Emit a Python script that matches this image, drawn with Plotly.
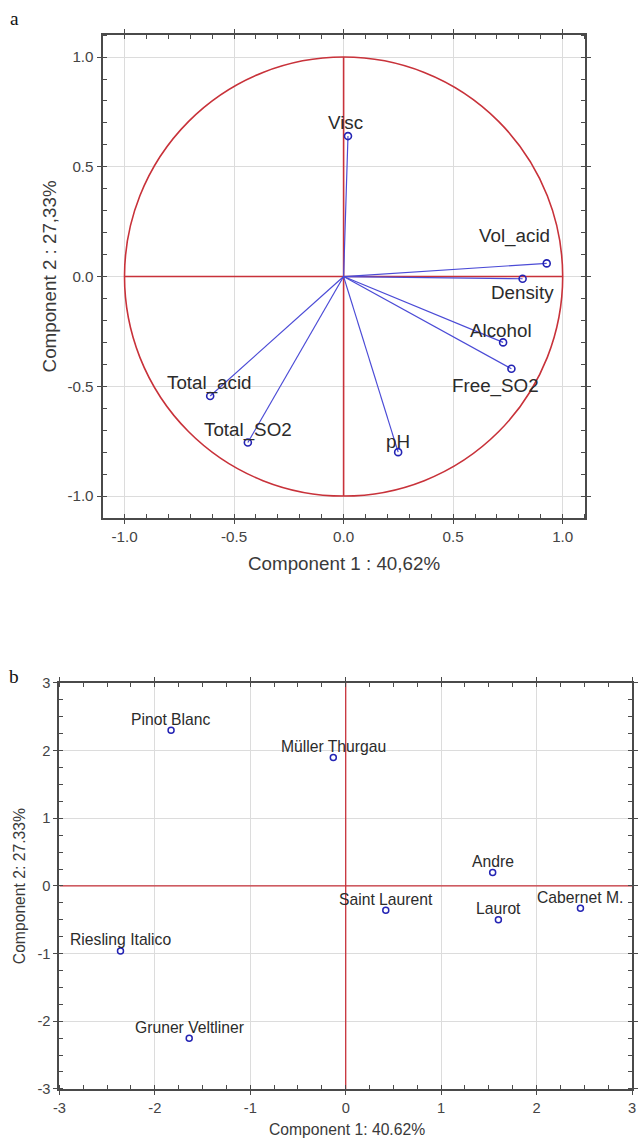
import plotly.graph_objects as go

# Panel a: variable loadings on the first two principal components
var_names = ["Visc", "Vol_acid", "Density", "Alcohol", "Free_SO2", "pH", "Total_acid", "Total_SO2"]
load_pc1 = [0.02, 0.927, 0.817, 0.728, 0.766, 0.249, -0.609, -0.437]
load_pc2 = [0.64, 0.06, -0.01, -0.30, -0.42, -0.80, -0.544, -0.756]

# Panel b: wine scores on the first two principal components
wine_names = ["Pinot Blanc", "Müller Thurgau", "Andre", "Saint Laurent", "Laurot",
              "Cabernet M.", "Riesling Italico", "Gruner Veltliner"]
score_pc1 = [-1.83, -0.13, 1.54, 0.42, 1.60, 2.46, -2.36, -1.64]
score_pc2 = [2.30, 1.90, 0.20, -0.36, -0.50, -0.33, -0.96, -2.25]

a_ticks = [-1.0, -0.5, 0.0, 0.5, 1.0]
a_ticktext = ["-1.0", "-0.5", "0.0", "0.5", "1.0"]
b_ticks = [-3, -2, -1, 0, 1, 2, 3]
b_ticktext = ["-3", "-2", "-1", "0", "1", "2", "3"]

# label offsets in screen pixels (dx, dy) relative to each loading point
a_label_shift = [(-2, 13), (-31, 27), (0, -14), (-2, 12), (-16, -17), (0, 11), (-1, 13), (0, 12)]

FONT = "Liberation Sans, Arial, sans-serif"
SERIF = "Liberation Serif, Times New Roman, serif"
RED = "#c8323a"
BLUE_LINE = "#4b4bd6"
BLUE_MARK = "#2424b4"
GRID = "#dcdcdc"
FRAME = "#4a4a4a"

# Layout positions are written in screen pixels of the final 638x1140 view.
# The page keeps its 8 px body margin and the 654x1156 page area is shown at
# 638x1140, so screen pixels are converted back to figure fractions here.
W, H = 638, 1140
BODY = 8
SX, SY = (W + 2 * BODY) / W, (H + 2 * BODY) / H


def px(x):
    return min(max((x * SX - BODY) / W, 0), 1)


def py(y):
    return min(max(1 - (y * SY - BODY) / H, 0), 1)


def fs(size):
    return round(size * SY, 1)


fig = go.Figure()

# vectors from the origin to each loading
vx, vy = [], []
for x, y in zip(load_pc1, load_pc2):
    vx += [0, x, None]
    vy += [0, y, None]
fig.add_trace(go.Scatter(x=vx, y=vy, mode="lines", line=dict(color=BLUE_LINE, width=1.2),
                         xaxis="x", yaxis="y", hoverinfo="skip", showlegend=False))
fig.add_trace(go.Scatter(x=load_pc1, y=load_pc2, mode="markers",
                         marker=dict(symbol="circle-open", size=7, color=BLUE_MARK,
                                     line=dict(width=1.6, color=BLUE_MARK)),
                         xaxis="x", yaxis="y", text=var_names, showlegend=False))

fig.add_trace(go.Scatter(x=score_pc1, y=score_pc2, mode="markers",
                         marker=dict(symbol="circle-open", size=6, color=BLUE_MARK,
                                     line=dict(width=1.5, color=BLUE_MARK)),
                         xaxis="x2", yaxis="y2", text=wine_names, showlegend=False))

annotations = []
for name, x, y, (dx, dy) in zip(var_names, load_pc1, load_pc2, a_label_shift):
    annotations.append(dict(x=x, y=y, xref="x", yref="y", text=name, showarrow=False,
                            xanchor="center", yanchor="middle",
                            xshift=dx * SX, yshift=dy * SY,
                            font=dict(family=FONT, size=fs(18.5), color="#2b2b2b")))
for name, x, y in zip(wine_names, score_pc1, score_pc2):
    annotations.append(dict(x=x, y=y, xref="x2", yref="y2", text=name, showarrow=False,
                            xanchor="center", yanchor="middle", yshift=11 * SY,
                            font=dict(family=FONT, size=fs(15.5), color="#2b2b2b")))

# axis titles and panel letters
annotations += [
    dict(x=px(343), y=py(563), xref="paper", yref="paper", text="Component 1 : 40,62%",
         showarrow=False, xanchor="center", yanchor="middle",
         font=dict(family=FONT, size=fs(18.5), color="#3a3a3a")),
    dict(x=px(50), y=py(276), xref="paper", yref="paper", text="Component 2 : 27,33%",
         showarrow=False, xanchor="center", yanchor="middle", textangle=-90,
         font=dict(family=FONT, size=fs(18.5), color="#3a3a3a")),
    dict(x=px(346), y=py(1130), xref="paper", yref="paper", text="Component 1: 40.62%",
         showarrow=False, xanchor="center", yanchor="middle",
         font=dict(family=FONT, size=fs(15.5), color="#3a3a3a")),
    dict(x=px(21), y=py(886), xref="paper", yref="paper", text="Component 2: 27.33%",
         showarrow=False, xanchor="center", yanchor="middle", textangle=-90,
         font=dict(family=FONT, size=fs(15.5), color="#3a3a3a")),
    dict(x=px(15), y=py(18), xref="paper", yref="paper", text="a", showarrow=False,
         xanchor="center", yanchor="middle",
         font=dict(family=SERIF, size=fs(19), color="#111")),
    dict(x=px(15), y=py(677), xref="paper", yref="paper", text="b", showarrow=False,
         xanchor="center", yanchor="middle",
         font=dict(family=SERIF, size=fs(19), color="#111")),
]

A_LIM = [-1.1, 1.1]
B_LIM = [-3, 3]

shapes = [
    # unit circle and cross for the loadings plot
    dict(type="circle", xref="x", yref="y", x0=-1, y0=-1, x1=1, y1=1,
         line=dict(color=RED, width=1.6), layer="between"),
    dict(type="line", xref="x", yref="y", x0=-1, y0=0, x1=1, y1=0,
         line=dict(color=RED, width=1.6), layer="between"),
    dict(type="line", xref="x", yref="y", x0=0, y0=-1, x1=0, y1=1,
         line=dict(color=RED, width=1.6), layer="between"),
    # origin cross across the whole scores plot
    dict(type="line", xref="x2", yref="y2", x0=B_LIM[0], y0=0, x1=B_LIM[1], y1=0,
         line=dict(color=RED, width=1.3), layer="between"),
    dict(type="line", xref="x2", yref="y2", x0=0, y0=B_LIM[0], x1=0, y1=B_LIM[1],
         line=dict(color=RED, width=1.3), layer="between"),
]


def axis_style(ticks, ticktext, rng, domain, anchor, minor_step, size):
    return dict(range=rng, domain=domain, anchor=anchor, tickvals=ticks, ticktext=ticktext,
                showgrid=True, gridcolor=GRID, gridwidth=1, zeroline=False,
                showline=True, linecolor=FRAME, linewidth=2, mirror="ticks",
                ticks="outside", ticklen=4, tickwidth=1, tickcolor=FRAME,
                minor=dict(dtick=minor_step, ticks="inside", ticklen=4, tickcolor=FRAME,
                           showgrid=False, tick0=0),
                tickfont=dict(family=FONT, size=fs(size), color="#444"),
                ticklabeloverflow="allow",
                fixedrange=True)


fig.update_layout(
    width=W, height=H, autosize=False,
    margin=dict(l=0, r=0, t=0, b=0),
    paper_bgcolor="white", plot_bgcolor="white",
    showlegend=False,
    xaxis=axis_style(a_ticks, a_ticktext, A_LIM, [px(103), px(583)], "y", 0.1, 15),
    yaxis=axis_style(a_ticks, a_ticktext, A_LIM, [py(518), py(35)], "x", 0.1, 15),
    xaxis2=axis_style(b_ticks, b_ticktext, B_LIM, [px(60), px(634)], "y2", 0.25, 14.5),
    yaxis2=axis_style(b_ticks, b_ticktext, B_LIM, [py(1089), py(683)], "x2", 0.25, 14.5),
    annotations=annotations,
    shapes=shapes,
)

fig.write_html("out.html", config={"displayModeBar": False})
